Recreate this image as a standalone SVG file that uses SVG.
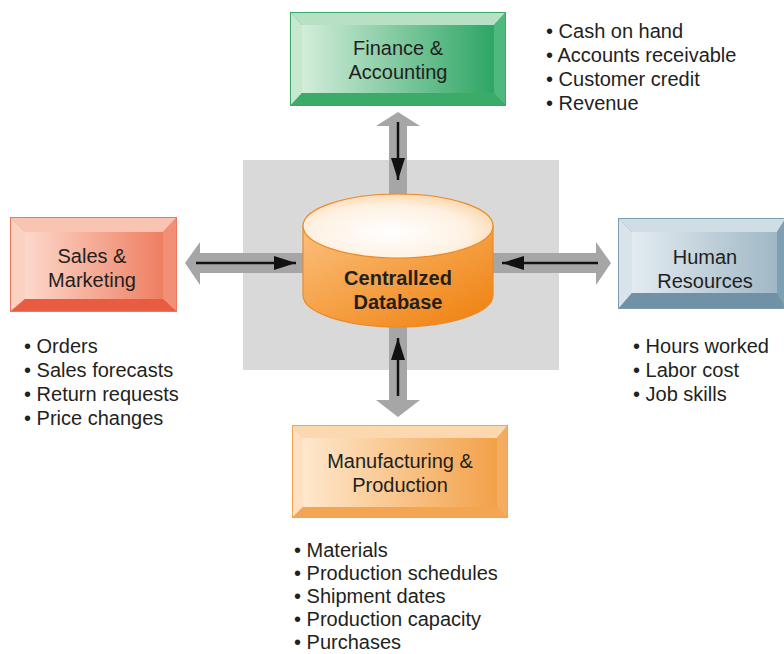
<svg xmlns="http://www.w3.org/2000/svg" width="784" height="654" viewBox="0 0 784 654">
<defs>
<style>
text{font-family:"Liberation Sans",Arial,Helvetica,sans-serif;font-size:20px;fill:#231f20}
.lbl{text-anchor:middle}
.db{font-weight:bold;text-anchor:middle;font-size:20px}
.gray{fill:#a6a6a6}
.blk{stroke:#111;stroke-width:2.5;fill:none;marker-end:url(#ah)}
</style>
<marker id="ah" markerUnits="userSpaceOnUse" markerWidth="22" markerHeight="14" refX="22" refY="7" orient="auto"><path d="M0,0 L22,7 L0,14 Z" fill="#111"/></marker>
<linearGradient id="gFin" x1="0" y1="0" x2="1" y2="0"><stop offset="0" stop-color="#d3eddb"/><stop offset="1" stop-color="#2ea664"/></linearGradient>
<linearGradient id="gSal" x1="0" y1="0" x2="1" y2="0"><stop offset="0" stop-color="#fcd8ca"/><stop offset="1" stop-color="#ee7f62"/></linearGradient>
<linearGradient id="gHR" x1="0" y1="0" x2="1" y2="0"><stop offset="0" stop-color="#e3ebf0"/><stop offset="1" stop-color="#a0b8c6"/></linearGradient>
<linearGradient id="gMfg" x1="0" y1="0" x2="1" y2="0"><stop offset="0" stop-color="#fee8cd"/><stop offset="1" stop-color="#f3a149"/></linearGradient>
<linearGradient id="gBody" x1="0" y1="0" x2="1" y2="1"><stop offset="0" stop-color="#fbc07c"/><stop offset="1" stop-color="#ef7f0c"/></linearGradient>
<radialGradient id="gTop" cx="0.45" cy="0.6" r="0.65"><stop offset="0" stop-color="#ffffff"/><stop offset="0.65" stop-color="#fef1e2"/><stop offset="1" stop-color="#fbd3a4"/></radialGradient>
</defs>

<rect x="243" y="160" width="316" height="210" fill="#d9d9d9"/>

<g id="connectors">
<polygon class="gray" points="398,112 420,126 407,126 407,210 389,210 389,126 376,126"/>
<polygon class="gray" points="389,320 407,320 407,400 420,400 398,417 376,400 389,400"/>
<polygon class="gray" points="185,263 200,242 200,253 320,253 320,273 200,273 200,285"/>
<polygon class="gray" points="480,253 596,253 596,242 611,263 596,285 596,273 480,273"/>
</g>

<g id="db">
<path d="M303,226 L303,295 A95,32 0 0 0 493,295 L493,226 Z" fill="url(#gBody)" stroke="#ea8a26" stroke-width="1.2"/>
<ellipse cx="398" cy="226" rx="95" ry="32" fill="url(#gTop)" stroke="#ea8a26" stroke-width="1.2"/>
<text class="db" x="398" y="285">Centrallzed</text>
<text class="db" x="398" y="309">Database</text>
</g>

<g id="arrows">
<line class="blk" x1="398" y1="122" x2="398" y2="180"/>
<line class="blk" x1="398" y1="396" x2="398" y2="338"/>
<line class="blk" x1="196" y1="263" x2="296" y2="263"/>
<line class="blk" x1="598" y1="263" x2="502" y2="263"/>
</g>

<g id="finance">
<rect x="290" y="12" width="216" height="94" fill="#3aa865"/>
<polygon points="291,13 505,13 494,25 302,25" fill="#b8e0c5"/>
<polygon points="291,13 302,25 302,93 291,105" fill="#c6e7d0"/>
<polygon points="505,13 505,105 494,93 494,25" fill="#4fb87c"/>
<polygon points="291,105 302,93 494,93 505,105" fill="#3bab68"/>
<rect x="302" y="25" width="192" height="68" fill="url(#gFin)"/>
<text class="lbl" x="398" y="55">Finance &amp;</text>
<text class="lbl" x="398" y="79">Accounting</text>
</g>

<g id="sales">
<rect x="10" y="217" width="167" height="95" fill="#f07561"/>
<polygon points="11,218 176,218 163,232 25,232" fill="#fac4b2"/>
<polygon points="11,218 25,232 25,299 11,311" fill="#fbd1c2"/>
<polygon points="176,218 176,311 163,299 163,232" fill="#f19077"/>
<polygon points="11,311 25,299 163,299 176,311" fill="#ea5c42"/>
<rect x="25" y="232" width="138" height="67" fill="url(#gSal)"/>
<text class="lbl" x="92" y="263">Sales &amp;</text>
<text class="lbl" x="92" y="287">Marketing</text>
</g>

<g id="hr">
<rect x="618" y="218" width="168" height="91" fill="#7d9db0"/>
<polygon points="619,219 785,219 777,232 632,232" fill="#d0dde5"/>
<polygon points="619,219 632,232 632,293 619,308" fill="#d9e4ea"/>
<polygon points="785,219 785,308 777,293 777,232" fill="#7f9fb2"/>
<polygon points="619,308 632,293 777,293 785,308" fill="#7192a6"/>
<rect x="632" y="232" width="145" height="61" fill="url(#gHR)"/>
<text class="lbl" x="705" y="264">Human</text>
<text class="lbl" x="705" y="288">Resources</text>
</g>

<g id="mfg">
<rect x="292" y="425" width="216" height="93" fill="#f5a24e"/>
<polygon points="293,426 507,426 497,438 303,438" fill="#fcd8b0"/>
<polygon points="293,426 303,438 303,507 293,517" fill="#fde1c2"/>
<polygon points="507,426 507,517 497,507 497,438" fill="#f4ad60"/>
<polygon points="293,517 303,507 497,507 507,517" fill="#f3a552"/>
<rect x="303" y="438" width="194" height="69" fill="url(#gMfg)"/>
<text class="lbl" x="400" y="468">Manufacturing &amp;</text>
<text class="lbl" x="400" y="492">Production</text>
</g>

<g id="fin-list">
<text x="546" y="38">• Cash on hand</text>
<text x="546" y="62">• Accounts receivable</text>
<text x="546" y="86">• Customer credit</text>
<text x="546" y="110">• Revenue</text>
</g>
<g id="sales-list">
<text x="24" y="353">• Orders</text>
<text x="24" y="377">• Sales forecasts</text>
<text x="24" y="401">• Return requests</text>
<text x="24" y="425">• Price changes</text>
</g>
<g id="hr-list">
<text x="633" y="353">• Hours worked</text>
<text x="633" y="377">• Labor cost</text>
<text x="633" y="401">• Job skills</text>
</g>
<g id="mfg-list">
<text x="294" y="557">• Materials</text>
<text x="294" y="580">• Production schedules</text>
<text x="294" y="603">• Shipment dates</text>
<text x="294" y="626">• Production capacity</text>
<text x="294" y="649">• Purchases</text>
</g>
</svg>
